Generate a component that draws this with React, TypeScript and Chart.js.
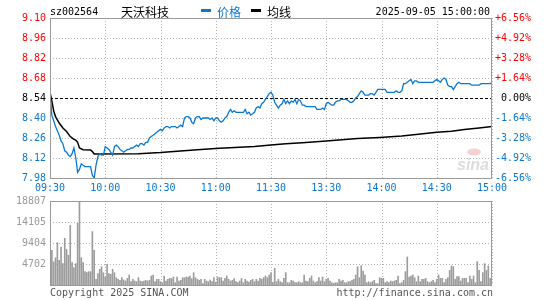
import React, { useEffect, useRef } from "react";
import { Chart, registerables } from "chart.js";

Chart.register(...registerables);

const stockCode = "sz002564";
const stockName = "天沃科技";
const legendPrice = "价格";
const legendAvg = "均线";
const dateText = "2025-09-05 15:00:00";
const copyrightText = "Copyright 2025 SINA.COM";
const urlText = "http://finance.sina.com.cn";

const prevClose = 8.54;
const priceTicks = [9.1, 8.96, 8.82, 8.68, 8.54, 8.4, 8.26, 8.12, 7.98];
const priceTickLabels = ["9.10", "8.96", "8.82", "8.68", "8.54", "8.40", "8.26", "8.12", "7.98"];
const pctTickLabels = ["+6.56%", "+4.92%", "+3.28%", "+1.64%", "0.00%", "-1.64%", "-3.28%", "-4.92%", "-6.56%"];
const timeTickMinutes = [0, 30, 60, 90, 120, 150, 180, 210, 240];
const timeTickLabels = ["09:30", "10:00", "10:30", "11:00", "11:30", "13:30", "14:00", "14:30", "15:00"];
const volTicks = [18807, 14105, 9404, 4702];
const volTickLabels = ["18807", "14105", "9404", "4702"];

// one price per minute (241 minutes)
const prices = [
  8.58, 8.42, 8.38, 8.34, 8.31, 8.28, 8.24, 8.22, 8.17, 8.16,
  8.14, 8.13, 8.15, 8.19, 8.12, 8.02, 8.04, 8.08, 8.07, 8.06,
  8.06, 8.06, 8.06, 8.0, 7.98, 8.07, 8.13, 8.15, 8.14, 8.14,
  8.2, 8.19, 8.18, 8.16, 8.14, 8.2, 8.21, 8.2, 8.18, 8.17,
  8.16, 8.17, 8.18, 8.18, 8.19, 8.19, 8.2, 8.21, 8.2, 8.22,
  8.22, 8.21, 8.23, 8.23, 8.26, 8.27, 8.28, 8.29, 8.3, 8.31,
  8.32, 8.31, 8.33, 8.34, 8.34, 8.33, 8.34, 8.34, 8.34, 8.33,
  8.34, 8.35, 8.34, 8.4, 8.41, 8.41, 8.4, 8.37, 8.36, 8.4,
  8.41, 8.41, 8.39, 8.4, 8.4, 8.4, 8.4, 8.39, 8.4, 8.38,
  8.4, 8.4, 8.38, 8.37, 8.38, 8.4, 8.41, 8.44, 8.46, 8.44,
  8.45, 8.44, 8.44, 8.44, 8.44, 8.44, 8.46, 8.43, 8.44, 8.42,
  8.43, 8.44, 8.47, 8.48, 8.47, 8.5, 8.51, 8.53, 8.55, 8.57,
  8.58, 8.56, 8.51, 8.49, 8.47, 8.49, 8.5, 8.53, 8.5, 8.52,
  8.5, 8.52, 8.51, 8.53, 8.5, 8.53, 8.52, 8.49, 8.49, 8.48,
  8.48, 8.48, 8.48, 8.48, 8.48, 8.46, 8.46, 8.46, 8.47, 8.46,
  8.5, 8.51, 8.5, 8.49, 8.49, 8.51, 8.52, 8.52, 8.53, 8.53,
  8.53, 8.53, 8.52, 8.51, 8.51, 8.52, 8.54, 8.55, 8.57, 8.59,
  8.58, 8.56, 8.56, 8.56, 8.57, 8.57, 8.56, 8.58, 8.6, 8.6,
  8.6, 8.6, 8.6, 8.58, 8.58, 8.58, 8.58, 8.58, 8.59, 8.58,
  8.58, 8.59, 8.64, 8.64, 8.65, 8.66, 8.67, 8.64, 8.66, 8.66,
  8.65, 8.65, 8.65, 8.65, 8.65, 8.65, 8.65, 8.65, 8.65, 8.66,
  8.67, 8.66, 8.65, 8.67, 8.68, 8.67, 8.63, 8.62, 8.62, 8.6,
  8.62, 8.64, 8.65, 8.64, 8.64, 8.64, 8.64, 8.64, 8.64, 8.63,
  8.63, 8.63, 8.63, 8.63, 8.64, 8.64, 8.64, 8.64, 8.64, 8.64,
  8.65,
];

// average price line, read at its bends
const avgMinutes = [0, 1, 2, 3, 5, 7, 9, 11, 13, 14, 15, 16, 18, 22, 23, 24, 48, 60, 80, 92, 103, 111, 120, 128, 137, 150, 167, 179, 191, 200, 210, 218, 225, 233, 240];
const avgValues = [8.58, 8.52, 8.45, 8.41, 8.365, 8.33, 8.305, 8.27, 8.25, 8.245, 8.23, 8.19, 8.178, 8.176, 8.165, 8.148, 8.15, 8.158, 8.178, 8.188, 8.196, 8.2, 8.211, 8.22, 8.227, 8.239, 8.256, 8.264, 8.274, 8.286, 8.3, 8.308, 8.32, 8.33, 8.34];

// volume per minute
const volumes = [
  1650, 7770, 5200, 6100, 9480, 5520, 8500, 4780, 10450, 8000,
  6640, 13370, 5000, 3880, 4780, 13810, 18807, 6120, 5000, 2990,
  2760, 2990, 2990, 11950, 7770, 1270, 2540, 3510, 4100, 2760,
  1790, 4630, 2540, 2390, 3510, 2760, 1640, 1270, 1050, 1640,
  1120, 900, 1490, 2240, 750, 1270, 900, 750, 1640, 900,
  750, 900, 1050, 900, 1050, 2020, 2240, 750, 1270, 1270,
  750, 500, 2020, 900, 1270, 1490, 1420, 1790, 520, 1790,
  900, 1050, 1640, 1640, 1790, 1790, 2020, 1420, 2760, 1640,
  1270, 1050, 1270, 300, 1270, 900, 750, 1120, 750, 1640,
  600, 1790, 1640, 1640, 900, 1490, 2020, 1270, 900, 1050,
  1420, 750, 520, 900, 1490, 520, 1270, 900, 670, 1050,
  1270, 750, 1270, 900, 1490, 1270, 1640, 2020, 1640, 2240,
  2760, 600, 3735, 750, 1270, 750, 520, 1490, 2760, 520,
  520, 1050, 900, 520, 520, 750, 520, 520, 2240, 900,
  750, 1490, 2020, 900, 520, 750, 1640, 900, 1790, 750,
  1270, 1490, 900, 520, 370, 520, 520, 1270, 900, 1050,
  520, 520, 750, 750, 1050, 1270, 2240, 4110, 1640, 4330,
  3140, 2240, 520, 750, 520, 750, 1050, 300, 300, 1640,
  1490, 1490, 520, 750, 520, 900, 750, 900, 1050, 2020,
  300, 520, 1050, 2990, 6275, 1790, 2020, 2240, 1640, 750,
  2020, 750, 1270, 1270, 1490, 750, 520, 750, 1050, 520,
  1270, 2240, 1490, 1490, 520, 1270, 1640, 3290, 4260, 4110,
  1270, 1870, 1870, 900, 1490, 1490, 1490, 520, 2020, 1270,
  2020, 520, 5230, 3290, 750, 2760, 4780, 3290, 4260, 1500,
  0,
];

const BLUE = "#0a78cf";
const RED = "#ff0000";
const GRID = "#b4b4b4";
const BORDER = "#9a9a9a";
const MONO = "'DejaVu Sans Mono', monospace";
const CJK = "'Noto Sans CJK SC', sans-serif";

function hLine(ctx: CanvasRenderingContext2D, x0: number, x1: number, y: number) {
  ctx.beginPath();
  ctx.moveTo(x0, y);
  ctx.lineTo(x1, y);
  ctx.stroke();
}
function vLine(ctx: CanvasRenderingContext2D, x: number, y0: number, y1: number) {
  ctx.beginPath();
  ctx.moveTo(x, y0);
  ctx.lineTo(x, y1);
  ctx.stroke();
}
const crisp = (v: number) => Math.round(v) + 0.5;

const priceDecor = {
  id: "priceDecor",
  beforeDatasetsDraw(chart: any) {
    const { ctx, chartArea: a, scales } = chart;
    const x = scales.x;
    const y = scales.y;
    ctx.save();
    // watermark
    ctx.fillStyle = "#f4d2d2";
    ctx.beginPath();
    ctx.ellipse(474, 152, 7, 3.5, 0, 0, Math.PI * 2);
    ctx.fill();
    ctx.fillStyle = "#dcdcdc";
    ctx.font = "italic bold 16px 'Liberation Sans', sans-serif";
    ctx.textAlign = "right";
    ctx.textBaseline = "alphabetic";
    ctx.fillText("sina", 489, 170);

    ctx.lineWidth = 1;
    ctx.strokeStyle = GRID;
    ctx.setLineDash([1, 2]);
    priceTicks.forEach((v) => {
      if (v === prevClose) return;
      hLine(ctx, a.left, a.right, crisp(y.getPixelForValue(v)));
    });
    timeTickMinutes.forEach((m) => {
      vLine(ctx, crisp(x.getPixelForValue(m)), a.top, a.bottom);
    });
    ctx.strokeStyle = "#000";
    ctx.setLineDash([3, 2]);
    hLine(ctx, a.left, a.right, crisp(y.getPixelForValue(prevClose)));
    ctx.restore();
  },
  afterDraw(chart: any) {
    const { ctx, chartArea: a, scales } = chart;
    const x = scales.x;
    const y = scales.y;
    ctx.save();
    ctx.lineWidth = 1;
    ctx.strokeStyle = BORDER;
    ctx.setLineDash([]);
    ctx.strokeRect(crisp(a.left), crisp(a.top), Math.round(a.right - a.left) - 1, Math.round(a.bottom - a.top));

    ctx.font = "10px " + MONO;
    ctx.textBaseline = "middle";
    priceTicks.forEach((v, i) => {
      const py = y.getPixelForValue(v);
      const col = i < 4 ? RED : i === 4 ? "#000" : BLUE;
      ctx.fillStyle = col;
      ctx.textAlign = "right";
      ctx.fillText(priceTickLabels[i], 46, py);
      ctx.fillText(pctTickLabels[i], 531, py);
    });
    ctx.fillStyle = BLUE;
    ctx.textAlign = "center";
    timeTickMinutes.forEach((m, i) => {
      ctx.fillText(timeTickLabels[i], x.getPixelForValue(m), 188);
    });

    // header
    ctx.fillStyle = "#000";
    ctx.textAlign = "left";
    ctx.fillText(stockCode, 50, 12);
    ctx.textAlign = "right";
    ctx.fillText(dateText, 490, 12);
    ctx.textAlign = "left";
    ctx.font = "12px " + CJK;
    ctx.fillText(stockName, 121, 12);
    ctx.fillStyle = BLUE;
    ctx.fillRect(201, 9, 10, 3);
    ctx.fillText(legendPrice, 217, 12);
    ctx.fillStyle = "#000";
    ctx.fillRect(251, 9, 10, 3);
    ctx.fillText(legendAvg, 267, 12);
    ctx.restore();
  },
};

const volDecor = {
  id: "volDecor",
  beforeDatasetsDraw(chart: any) {
    const { ctx, chartArea: a, scales } = chart;
    const x = scales.x;
    const y = scales.y;
    ctx.save();
    ctx.lineWidth = 1;
    ctx.strokeStyle = GRID;
    ctx.setLineDash([1, 2]);
    volTicks.forEach((v, i) => {
      if (i === 0) return;
      hLine(ctx, a.left, a.right, crisp(y.getPixelForValue(v)));
    });
    timeTickMinutes.forEach((m) => {
      vLine(ctx, crisp(x.getPixelForValue(m)), a.top, a.bottom);
    });
    ctx.restore();
  },
  afterDraw(chart: any) {
    const { ctx, chartArea: a, scales } = chart;
    const y = scales.y;
    ctx.save();
    ctx.lineWidth = 1;
    ctx.strokeStyle = BORDER;
    ctx.strokeRect(crisp(a.left), crisp(a.top), Math.round(a.right - a.left) - 1, Math.round(a.bottom - a.top));
    ctx.font = "10px " + MONO;
    ctx.textBaseline = "middle";
    ctx.fillStyle = "#999";
    ctx.textAlign = "right";
    volTicks.forEach((v, i) => {
      ctx.fillText(volTickLabels[i], 46, y.getPixelForValue(v));
    });
    ctx.fillStyle = "#555";
    ctx.textAlign = "left";
    ctx.fillText(copyrightText, 50, a.bottom + 8);
    ctx.textAlign = "right";
    ctx.fillText(urlText, 493, a.bottom + 8);
    ctx.restore();
  },
};

export default function App() {
  const priceRef = useRef<HTMLCanvasElement>(null);
  const volRef = useRef<HTMLCanvasElement>(null);

  useEffect(() => {
    document.body.style.margin = "0";
    const priceChart = new Chart(priceRef.current as HTMLCanvasElement, {
      type: "line",
      data: {
        datasets: [
          {
            label: legendAvg,
            data: avgMinutes.map((m, i) => ({ x: m, y: avgValues[i] })),
            borderColor: "#000",
            borderWidth: 1.5,
            pointRadius: 0,
            tension: 0,
            order: 2,
          },
          {
            label: legendPrice,
            data: prices.map((p, i) => ({ x: i, y: p })),
            borderColor: BLUE,
            borderWidth: 1.3,
            pointRadius: 0,
            tension: 0,
            order: 1,
          },
        ],
      },
      options: {
        animation: false,
        responsive: false,
        layout: { padding: { left: 50, right: 53, top: 18, bottom: 22 } },
        plugins: { legend: { display: false }, tooltip: { enabled: false } },
        scales: {
          x: { type: "linear", min: 0, max: 240, display: false },
          y: { type: "linear", min: 7.98, max: 9.1, display: false },
        },
      },
      plugins: [priceDecor],
    });

    const volChart = new Chart(volRef.current as HTMLCanvasElement, {
      type: "bar",
      data: {
        datasets: [
          {
            data: volumes.map((v, i) => ({ x: i, y: v })),
            backgroundColor: "#9c9c9c",
            barThickness: 1,
          },
        ],
      },
      options: {
        animation: false,
        responsive: false,
        layout: { padding: { left: 50, right: 53, top: 21, bottom: 15 } },
        plugins: { legend: { display: false }, tooltip: { enabled: false } },
        scales: {
          x: { type: "linear", min: 0, max: 240, offset: false, display: false },
          y: { type: "linear", min: 0, max: 18807, display: false },
        },
      },
      plugins: [volDecor],
    });

    return () => {
      priceChart.destroy();
      volChart.destroy();
    };
  }, []);

  return (
    <div style={{ position: "fixed", left: 0, top: 0, width: 545, height: 300, background: "#fff" }}>
      <canvas ref={priceRef} width={545} height={200} style={{ position: "absolute", left: 0, top: 0, width: 545, height: 200 }} />
      <canvas ref={volRef} width={545} height={120} style={{ position: "absolute", left: 0, top: 180, width: 545, height: 120 }} />
    </div>
  );
}
